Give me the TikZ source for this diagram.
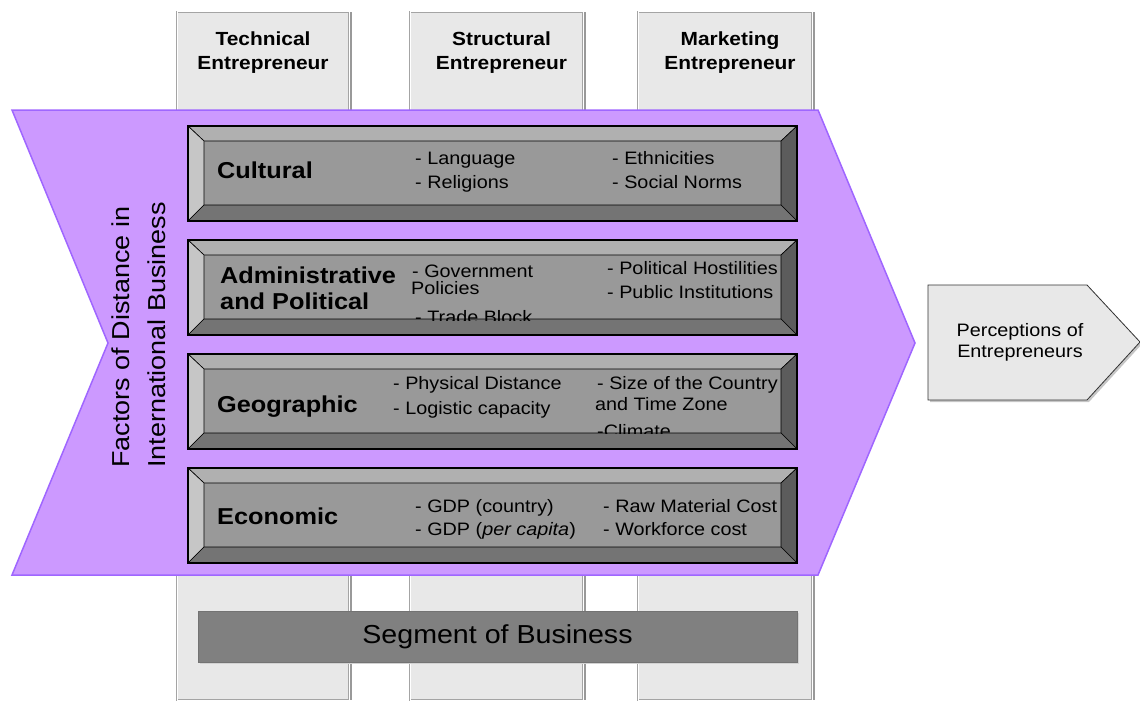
\documentclass[tikz,border=0pt]{standalone}
\usepackage{fontspec}
\setmainfont{Liberation Sans}[FakeStretch=1.1]
\usetikzlibrary{positioning, shadows}

\definecolor{colfill}{HTML}{E8E8E8}
\definecolor{colline}{HTML}{A4A4A4}
\definecolor{chevfill}{HTML}{CC99FF}
\definecolor{chevline}{HTML}{9F66FF}
\definecolor{barface}{HTML}{999999}
\definecolor{bevtop}{HTML}{B0B0B0}
\definecolor{bevleft}{HTML}{C6C6C6}
\definecolor{bevright}{HTML}{5C5C5C}
\definecolor{bevbottom}{HTML}{747474}

\begin{document}
\begin{tikzpicture}[x=1pt, y=-1pt]
	\tikzset{column/.style={draw=colline, fill=colfill, line width=.8pt, double=white, double distance=1pt,
			minimum height=688pt, drop shadow={shadow xshift=2.5pt, shadow yshift=0pt, fill=gray!80, opacity=1}},
		head/.style={align=center, inner sep=0pt, font=\fontsize{19}{24}\selectfont\bfseries},
		title/.style={anchor=base west, inner sep=0pt, align=left, font=\fontsize{23}{26}\selectfont\bfseries},
		item/.style={anchor=base west, inner sep=0pt, font=\fontsize{18}{22}\selectfont},
		bevel/.style={draw=black, line width=.6pt},
		segment/.style={draw=gray!90!black, fill=gray, minimum width=599pt, minimum height=51pt,
			font=\fontsize{26}{30}\selectfont, drop shadow={shadow xshift=2pt, shadow yshift=-2pt, fill=gray!35, opacity=1}}}
	\useasboundingbox (0,0) rectangle (1140,701);

	% entrepreneur columns behind everything
	\node[column, minimum width=172pt] (tech) at (263,356) {};
	\node[column, minimum width=173pt] (struct) at (496.5,356) {};
	\node[column, minimum width=174pt] (mark) at (725,356) {};
	\node[head, below=20pt of tech.north] (techhead) {Technical\\Entrepreneur};
	\node[head, below=20pt of struct.north, xshift=5pt] (structhead) {Structural\\Entrepreneur};
	\node[head, below=20pt of mark.north, xshift=5pt] (markhead) {Marketing\\Entrepreneur};

	% big chevron
	\draw[chevline, fill=chevfill, line width=1.5pt, line join=miter]
		(12,110) -- (818,110) -- (915,343) -- (818,575) -- (12,575) -- (108,343) -- cycle;
	\node[rotate=90, align=left, inner sep=0pt, font=\fontsize{24.5}{36}\selectfont] (factors) at (139,335)
		{Factors of Distance in\\International Business};

	% bevelled factor bars
	\foreach \name/\top in {cult/126, admin/240, geo/354, econ/468} {
		\fill[barface] (188,\top) rectangle (797,\top+95);
		\filldraw[bevel, fill=bevtop] (188,\top) -- (797,\top) -- (781,\top+15) -- (204,\top+15) -- cycle;
		\filldraw[bevel, fill=bevleft] (188,\top) -- (204,\top+15) -- (204,\top+79) -- (188,\top+95) -- cycle;
		\filldraw[bevel, fill=bevright] (797,\top) -- (797,\top+95) -- (781,\top+79) -- (781,\top+15) -- cycle;
		\filldraw[bevel, fill=bevbottom] (188,\top+95) -- (797,\top+95) -- (781,\top+79) -- (204,\top+79) -- cycle;
		\draw[line width=1.3pt] (188,\top) rectangle (797,\top+95);
		\node[inner sep=0pt, minimum width=577pt, minimum height=64pt] (\name) at (492.5,\top+47) {};
	}

	\node[title] (culttitle) at (217,178) {Cultural};
	\node[item] (lang) at (415,164) {- Language};
	\node[item] (relig) at (415,188) {- Religions};
	\node[item] (ethn) at (612,164) {- Ethnicities};
	\node[item] (norms) at (612,188) {- Social Norms};

	\node[title] (admintitle) at (220,309) {Administrative\\and Political};
	\node[item] (gov) at (412,277) {- Government};
	\node[item] (pol) at (411,294) {Policies};
	\node[item] (host) at (607,274) {- Political Hostilities};
	\node[item] (inst) at (607,298) {- Public Institutions};

	\node[title] (geotitle) at (217,412) {Geographic};
	\node[item] (dist) at (393,389) {- Physical Distance};
	\node[item] (logi) at (393,414) {- Logistic capacity};
	\node[item] (size) at (597,389) {- Size of the Country};
	\node[item] (zone) at (595,410) {and Time Zone};

	% lines running past the face get cut off
	\begin{scope}
		\clip (204,255) rectangle (781,320);
		\node[item] (trade) at (415,323) {- Trade Block};
	\end{scope}
	\begin{scope}
		\clip (204,369) rectangle (781,433);
		\node[item] (clim) at (597,437) {-Climate};
	\end{scope}

	\node[title] (econtitle) at (217,524) {Economic};
	\node[item] (gdp) at (415,512) {- GDP (country)};
	\node[item] (gdpcap) at (415,535) {- GDP (\textit{per capita})};
	\node[item] (raw) at (603,512) {- Raw Material Cost};
	\node[item] (work) at (603,535) {- Workforce cost};

	% segment bar
	\node[segment] (segment) at (497.5,636.5) {Segment of Business};

	% outcome arrow
	\fill[gray!45] (930,287) -- (1089,287) -- (1142,344) -- (1089,402) -- (930,402) -- cycle;
	\draw[gray!40!black, fill=colfill, line width=.8pt]
		(928,285) -- (1087,285) -- (1140,342) -- (1087,400) -- (928,400) -- cycle;
	\node[align=center, inner sep=0pt, font=\fontsize{18}{21}\selectfont] (percept) at (1020,342)
		{Perceptions of\\Entrepreneurs};
\end{tikzpicture}
\end{document}
